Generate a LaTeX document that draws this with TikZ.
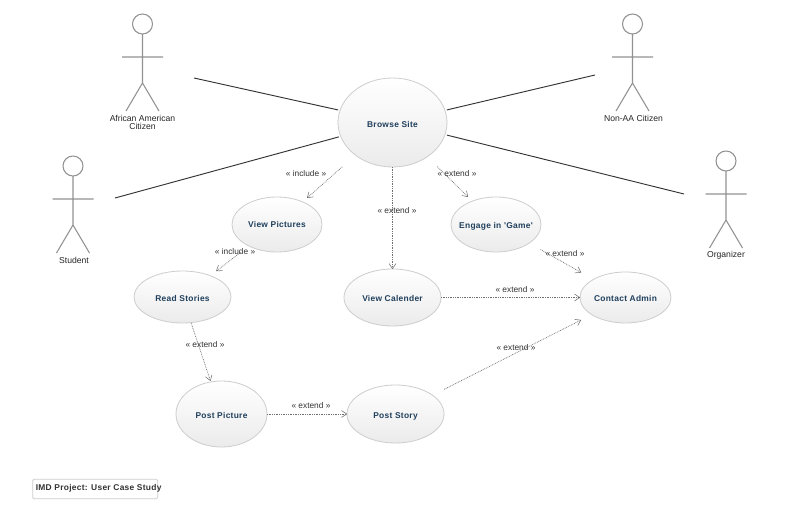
\documentclass[tikz,border=0pt]{standalone}
\usepackage{fontspec}
\setmainfont{Liberation Sans}
\newfontfamily\ucfont[LetterSpace=3.5]{Liberation Sans}
\usetikzlibrary{arrows.meta,shapes.geometric}
\definecolor{ucborder}{HTML}{CDCDCD}
\definecolor{ucfill}{HTML}{EBEBEB}
\definecolor{uctext}{HTML}{1F3F5C}
\definecolor{actorline}{HTML}{929292}
\definecolor{assoc}{HTML}{333333}
\definecolor{depline}{HTML}{707070}
\newcommand{\uclabel}[2][3.3pt]{\raisebox{-#1}[0pt][0pt]{\makebox[0pt][c]{#2}}}
\tikzset{
  usecase/.style n args={2}{shape=ellipse,draw=ucborder,line width=0.6pt,top color=white,bottom color=ucfill,
     minimum width=#1*0.75pt*2,minimum height=#2*0.75pt*2,inner sep=0pt,outer sep=0pt,text=uctext,font=\ucfont\bfseries\fontsize{6.3}{8}\selectfont},
  assocline/.style={draw=assoc,line width=0.7pt,shorten >=1.5pt},
  depend/.style={draw=depline,line width=0.5pt,dash pattern=on 0.6pt off 0.7pt,-{Straight Barb[length=3.8pt,width=5pt,line width=0.4pt,round]}},
  deplabel/.style={font=\fontsize{6.25}{8}\selectfont,text=black!80,inner sep=0pt},
  actorname/.style={font=\fontsize{6.45}{6.2}\selectfont,text=black!85,inner sep=0pt,align=center},
  actor/.pic={
    \draw[actorline,line width=0.8pt,line join=round]
      (0,-14) circle[radius=10] (0,-4) -- (0,45)
      (-20.5,19) -- (20.5,19)
      (-16.5,73) -- (0,45) -- (16.5,73);
  }
}
\begin{document}
\begin{tikzpicture}[x=0.75pt,y=-0.75pt]
\useasboundingbox (0,0) rectangle (800,531);
\fill[white] (0,0) rectangle (800,531);

% actors
\pic at (142.5,38) {actor};
\pic at (632.5,38) {actor};
\pic at (73,180) {actor};
\pic at (726,175) {actor};
\node[actorname] (lblafrican) at (142.5,122.3) {African American\\Citizen};
\node[actorname] (lblnonaa) at (633.5,118) {Non-AA Citizen};
\node[actorname] (lblstudent) at (74,260.5) {Student};
\node[actorname] (lblorganizer) at (726,255.5) {Organizer};

% use cases
\node[usecase={54.5}{44.5}] (browse) at (392.5,122.5) {\uclabel[3.7pt]{Browse Site}};
\node[usecase={45}{27.5}] (pictures) at (277,224.5) {\uclabel[2pt]{View Pictures}};
\node[usecase={45}{27.5}] (game) at (496,224.5) {\uclabel{Engage in 'Game'}};
\node[usecase={48.5}{26}] (stories) at (182.5,297) {\uclabel{Read Stories}};
\node[usecase={48.5}{28.5}] (calender) at (392.5,297.5) {\uclabel[3pt]{View Calender}};
\node[usecase={45.5}{25.5}] (admin) at (625.5,297.5) {\uclabel{Contact Admin}};
\node[usecase={45.5}{33}] (postpic) at (221.5,414) {\uclabel[3pt]{Post Picture}};
\node[usecase={48.5}{29}] (poststory) at (395.5,414) {\uclabel{Post Story}};

% actor associations
\coordinate (endafrican) at (194,78);
\coordinate (endstudent) at (115,198);
\coordinate (endnonaa) at (595,75);
\coordinate (endorganizer) at (684,194);
\draw[assocline] (endafrican) -- (browse.167);
\draw[assocline] (endstudent) -- (browse.195);
\draw[assocline] (endnonaa) -- (browse.13);
\draw[assocline] (endorganizer) -- (browse.347);

% dependencies
\draw[depend,shorten <=13.2pt,shorten >=4.5pt] (browse) -- (pictures);
\draw[depend] (browse) -- (calender);
\draw[depend,shorten <=10.5pt,shorten >=4.5pt] (browse) -- (game);
\draw[depend,shorten <=7.5pt,shorten >=5.6pt] (pictures) -- (stories);
\draw[depend,shorten <=0.3pt,shorten >=0.8pt] (stories) -- (postpic);
\draw[depend] (postpic) -- (poststory);
\draw[depend] (calender) -- (admin);
\draw[depend,shorten <=9.8pt,shorten >=10.5pt] (game) -- (admin);
\draw[depend,shorten <=9.8pt,shorten >=9pt] (poststory) -- (admin);

% dependency labels
\node[deplabel] (lbla) at (306,173.5) {« include »};
\node[deplabel] (lblb) at (397,210.8) {« extend »};
\node[deplabel] (lblc) at (457,173.8) {« extend »};
\node[deplabel] (lbld) at (235,252) {« include »};
\node[deplabel] (lble) at (205,344.2) {« extend »};
\node[deplabel] (lblf) at (311,405.8) {« extend »};
\node[deplabel] (lblg) at (565,253.1) {« extend »};
\node[deplabel] (lblh) at (515,289.8) {« extend »};
\node[deplabel] (lbli) at (516,347.1) {« extend »};

% note
\node[draw=ucborder,line width=0.6pt,rounded corners=1pt,minimum width=93.75pt,minimum height=14.6pt,inner sep=0pt,outer sep=0pt] (note) at (95.2,489) {};
\node[anchor=west,inner sep=0pt,font=\ucfont\bfseries\fontsize{6.3}{8}\selectfont,text=black!80] (notetext) at (35.5,488.5) {IMD Project: User Case Study};
\end{tikzpicture}
\end{document}
